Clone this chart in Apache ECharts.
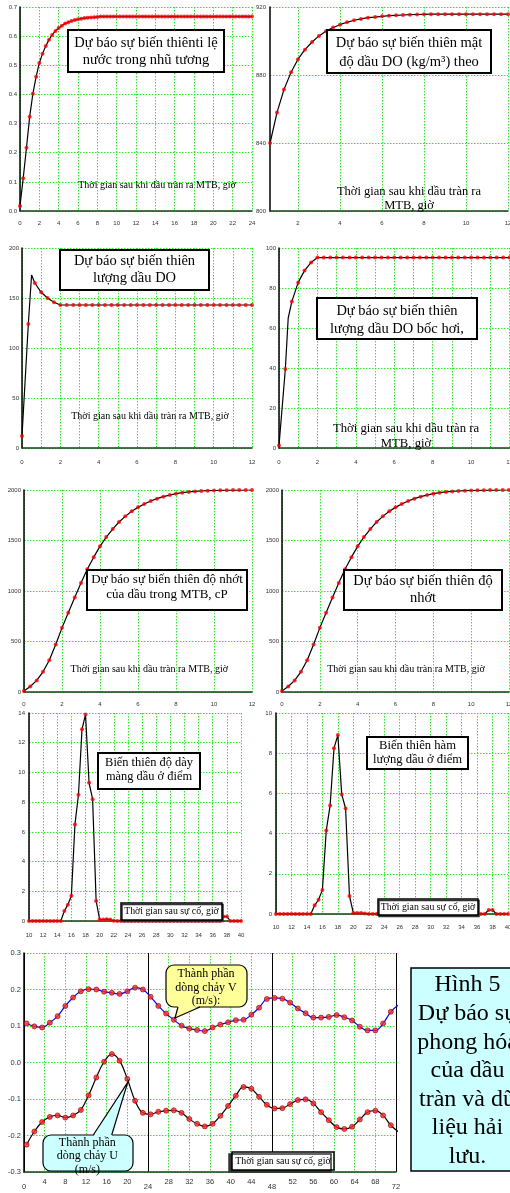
<!DOCTYPE html>
<html><head><meta charset="utf-8">
<script src="https://cdn.jsdelivr.net/npm/echarts@6/dist/echarts.min.js"></script>
<style>html,body{margin:0;padding:0;background:#fff}#c{width:510px;height:1193px}</style>
</head><body><div id="c"></div>
<script>
// ---------- DATA ----------
// sample times (hours)
const t24 = [0,0.33,0.67,1,1.33,1.67,2,2.33,2.67,3,3.33,3.67,4,4.33,4.67,5,5.33,5.67,6,6.33,6.67,7,7.33,7.67,8,8.33,8.67,9,9.33,9.67,10,10.33,10.67,11,11.33,11.67,12,12.33,12.67,13,13.33,13.67,14,14.33,14.67,15,15.33,15.67,16,16.33,16.67,17,17.33,17.67,18,18.33,18.67,19,19.33,19.67,20,20.33,20.67,21,21.33,21.67,22,22.33,22.67,23,23.33,23.67,24];
const t12 = [0,0.33,0.67,1,1.33,1.67,2,2.33,2.67,3,3.33,3.67,4,4.33,4.67,5,5.33,5.67,6,6.33,6.67,7,7.33,7.67,8,8.33,8.67,9,9.33,9.67,10,10.33,10.67,11,11.33,11.67,12];
const t12b = [0.67,1,1.33,1.67,2,2.33,2.67,3,3.33,3.67,4,4.33,4.67,5,5.33,5.67,6,6.33,6.67,7,7.33,7.67,8,8.33,8.67,9,9.33,9.67,10,10.33,10.67,11,11.33,11.67,12];
const tSpill = [10,10.5,11,11.5,12,12.5,13,13.5,14,14.5,15,15.5,16,16.5,17,17.5,18,18.5,19,19.5,20,20.5,21,21.5,22,22.5,23,23.5,24,24.5,25,25.5,26,26.5,27,27.5,28,28.5,29,29.5,30,30.5,31,31.5,32,32.5,33,33.5,34,34.5,35,35.5,36,36.5,37,37.5,38,38.5,39,39.5,40];
const tCurrent = [0.5,2,3.5,5,6.5,8,9.5,11,12.5,14,15.5,17,18.5,20,21.5,23,24.5,26,27.5,29,30.5,32,33.5,35,36.5,38,39.5,41,42.5,44,45.5,47,48.5,50,51.5,53,54.5,56,57.5,59,60.5,62,63.5,65,66.5,68,69.5,71,72.5];

// panel 1: water fraction in emulsion
const waterFraction = [0.017,0.112,0.217,0.323,0.402,0.461,0.508,0.540,0.566,0.588,0.604,0.618,0.628,0.636,0.643,0.648,0.652,0.655,0.658,0.660,0.662,0.663,0.664,0.665,0.666,
 0.667,0.667,0.667,0.667,0.667,0.667,0.667,0.667,0.667,0.667,0.667,0.667,
 0.667,0.667,0.667,0.667,0.667,0.667,0.667,0.667,0.667,0.667,0.667,0.667,
 0.667,0.667,0.667,0.667,0.667,0.667,0.667,0.667,0.667,0.667,0.667,0.667,
 0.667,0.667,0.667,0.667,0.667,0.667,0.667,0.667,0.667,0.667,0.667,0.667];
// panel 2: DO density kg/m3
const densityDO = [840,857.9,871.4,881.6,889.3,894.9,899.4,903.0,905.7,907.9,909.6,911.0,912.2,913.0,913.7,914.1,914.5,914.9,915.1,915.3,915.5,915.6,915.7,915.8,
 915.8,915.8,915.8,915.8,915.8,915.8,915.8,915.8,915.8,915.8,915.8];
// panel 3: DO amount
const amountDO = [12,124,165,155.7,150,145.7,143,143,143,143,143,143,143,143,143,143,143,143,143,143,143,143,143,143,143,143,143,143,143,143,143,143,143,143,143,143,143];
const amountPeakT = [0.5];
const amountPeakV = [173];
// panel 4: evaporated DO
const evaporatedDO = [1.2,39.5,73.3,82.8,88.7,92.8,95.2,95.2,95.2,95.2,95.2,95.2,95.2,95.2,95.2,95.2,95.2,95.2,95.2,95.2,95.2,95.2,95.2,95.2,95.2,95.2,95.2,95.2,95.2,95.2,95.2,95.2,95.2,95.2,95.2,95.2,95.2];
const evapBendT = [0.48];
const evapBendV = [65];
// panels 5,6: viscosity cP
const viscosity = [10,55,115,200,315,470,635,785,935,1080,1215,1335,1442,1534,1613,1683,1739,1789,1828,1861,1891,1914,1934,1950,1964,1974,1981,1986,1990,1993,1995,1997,1998,1999,1999,2000,2000];
// panel 7: oil film thickness at a point
const filmThickness = [0,0,0,0,0,0,0,0,0,0,0.67,1.1,1.7,6.5,8.5,12.9,13.9,9.3,8.2,1.35,0.1,0.1,0.12,0.1,0.02,
 0,0,0,0,0,0,0,0,0,0,0,0,0,0,0,0,0,0,0,0,0,0,0,0,0,0,0,0,0,0,0.3,0.3,0,0,0,0];
// panel 8: oil content at a point
const oilContent = [0,0,0,0,0,0,0,0,0,0,0.43,0.71,1.2,4.15,5.4,8.25,8.9,5.95,5.25,0.9,0.05,0.05,0.05,0.03,0,
 0,0,0,0,0,0,0,0,0,0,0,0,0,0,0,0,0,0,0,0,0,0,0,0,0,0,0,0,0,0,0.2,0.2,0,0,0,0];
// panel 9: current components (m/s)
const currentV = [0.107,0.099,0.096,0.109,0.127,0.155,0.178,0.195,0.201,0.200,0.194,0.191,0.188,0.195,0.205,0.200,0.180,0.155,0.134,0.117,0.101,0.093,0.089,0.086,0.096,0.104,0.110,0.116,0.117,0.131,0.150,0.174,0.177,0.175,0.164,0.148,0.135,0.123,0.123,0.125,0.130,0.124,0.115,0.098,0.088,0.088,0.107,0.139,0.158];
const currentU = [-0.225,-0.189,-0.163,-0.149,-0.145,-0.151,-0.145,-0.130,-0.090,-0.041,0.002,0.023,0.005,-0.045,-0.105,-0.138,-0.142,-0.135,-0.132,-0.131,-0.138,-0.155,-0.168,-0.175,-0.168,-0.146,-0.119,-0.091,-0.067,-0.072,-0.094,-0.116,-0.126,-0.125,-0.114,-0.103,-0.101,-0.112,-0.136,-0.158,-0.177,-0.182,-0.176,-0.156,-0.136,-0.132,-0.145,-0.172,-0.19];
const densityTicks = [2,4,6,8,10,12];

// ---------- HELPERS ----------
const pairs = (xs, ys) => xs.map((x, i) => [x, ys[i]]);
const withExtra = (xs, ys, ex, ey) => pairs(xs, ys).concat(pairs(ex, ey)).sort((a, b) => a[0] - b[0]);
const GREEN = {color:'#2ee82e', width:1, type:[1.5,1.5]};
const plain = v => String(v);
function axis(dim, gi, min, max, interval, o) {
  o = o || {};
  return {
    type:'value', gridIndex:gi, min:min, max:max, interval:interval,
    position: dim === 'x' ? 'bottom' : 'left',
    axisLine:{show:o.line !== false, onZero:false, lineStyle:{color: dim === 'x' ? '#174017' : '#000', width:1.5}},
    axisTick:{show:false, customValues:o.custom},
    axisLabel:{show:o.label !== false, margin:o.margin, fontSize:o.fs || 6, color:'#333', fontFamily:'Liberation Sans', formatter:o.fmt || plain, customValues:o.custom},
    splitLine:{show:true, lineStyle:o.split || GREEN}
  };
}
const f1 = v => v.toFixed(1);
const even = v => (Math.round(v) % 2 === 0 ? String(Math.round(v)) : '');
function line(i, data, color, smooth) {
  return {type:'line', xAxisIndex:i, yAxisIndex:i, data:data, symbol:'none', smooth:smooth || false,
    lineStyle:{color:color || '#000', width:1.2}, z:3, animation:false, silent:true};
}
function dots(xi, yi, data, big) {
  return {type:'scatter', xAxisIndex:xi, yAxisIndex:yi, data:data, symbol:'circle', symbolSize: big ? 5 : 4,
    itemStyle: big ? {color:'#ff2a2a', borderColor:'#900000', borderWidth:0.8} : {color:'#ff0000'},
    z:4, animation:false, silent:true};
}
const SERIF = '"Liberation Serif", "Times New Roman", serif';
function txt(x, y, text, size, lh, extra) {
  return Object.assign({type:'text', x:x, y:y, z:21, silent:true,
    style:{text:text, font:size + 'px ' + SERIF, fill:'#000', align:'center', verticalAlign:'middle',
      textAlign:'center', textVerticalAlign:'middle', lineHeight:lh || size * 1.2}}, extra || {});
}
function rect(x, y, w, h, fill, lw, r, shadow) {
  const st = {fill:fill, stroke:'#000', lineWidth:lw};
  if (shadow) { st.shadowColor = '#333'; st.shadowOffsetX = shadow[0]; st.shadowOffsetY = shadow[1]; st.shadowBlur = 0.01; }
  return {type:'rect', shape:{x:x, y:y, width:w, height:h, r:r || 0}, style:st, z:20, silent:true};
}

const grids = [
  {left:20, top:7, width:232, height:204},
  {left:270, top:7, width:238, height:204},
  {left:22, top:248, width:230, height:200},
  {left:279, top:248, width:230.5, height:200},
  {left:24, top:490, width:228, height:202},
  {left:282, top:490, width:227, height:202},
  {left:29, top:713, width:212, height:208},
  {left:276, top:713, width:232, height:201},
  {left:24, top:953, width:372, height:219}
].map(g => Object.assign({containLabel:false, outerBoundsMode:'none', show:false}, g));

const xAxes = [
  axis('x', 0, 0, 24, 2, {margin:9}),
  axis('x', 1, 0.6667, 12, null, {margin:9, custom:densityTicks}),
  axis('x', 2, 0, 12, 1, {margin:11, fmt:even}),
  axis('x', 3, 0, 12, 1, {margin:11, fmt:even}),
  axis('x', 4, 0, 12, 2, {margin:9}),
  axis('x', 5, 0, 12, 2, {margin:9}),
  axis('x', 6, 10, 40, 2, {margin:11}),
  axis('x', 7, 10, 40, 2, {margin:10}),
  axis('x', 8, 0, 72, 4, {margin:5.5, fs:7.5, fmt: v => (v % 24 === 0 ? '' : String(v))}),
  axis('x', 8, 0, 72, 24, {margin:10.5, fs:7.5, line:false, split:{color:'#000', width:1, type:'solid'}})
];
const yAxes = [
  axis('y', 0, 0, 0.7, 0.1, {margin:3, fmt:f1}),
  axis('y', 1, 800, 920, 40, {margin:4}),
  axis('y', 2, 0, 200, 50, {margin:3}),
  axis('y', 3, 0, 100, 20, {margin:3}),
  axis('y', 4, 0, 2000, 500, {margin:3}),
  axis('y', 5, 0, 2000, 500, {margin:3}),
  axis('y', 6, 0, 14, 2, {margin:4}),
  axis('y', 7, 0, 10, 2, {margin:4}),
  axis('y', 8, -0.3, 0.3, 0.1, {margin:3, fs:7.5, fmt:f1})
];

const series = [
  line(0, pairs(t24, waterFraction)), dots(0, 0, pairs(t24, waterFraction)),
  line(1, pairs(t12b, densityDO)), dots(1, 1, pairs(t12b, densityDO)),
  line(2, withExtra(t12, amountDO, amountPeakT, amountPeakV)), dots(2, 2, pairs(t12, amountDO)),
  line(3, withExtra(t12, evaporatedDO, evapBendT, evapBendV)), dots(3, 3, pairs(t12, evaporatedDO)),
  line(4, pairs(t12, viscosity)), dots(4, 4, pairs(t12, viscosity)),
  line(5, pairs(t12, viscosity)), dots(5, 5, pairs(t12, viscosity)),
  line(6, pairs(tSpill, filmThickness)), dots(6, 6, pairs(tSpill, filmThickness)),
  line(7, pairs(tSpill, oilContent)), dots(7, 7, pairs(tSpill, oilContent)),
  line(8, pairs(tCurrent, currentV), '#0000ff', 0.4), dots(8, 8, pairs(tCurrent, currentV), true),
  line(8, pairs(tCurrent, currentU), '#000', 0.4), dots(8, 8, pairs(tCurrent, currentU), true)
];

const g = [];
// panel title boxes
g.push(rect(68, 30, 156, 42, '#fff', 2), txt(146, 51.7, 'Dự báo sự biến thiênti lệ\nnước trong nhũ tương', 14.5, 16.7));
g.push(rect(327, 30, 164, 43, '#fff', 2), txt(409, 52.5, 'Dự báo sự biến thiên mật\nđộ dầu DO (kg/m³) theo', 14.5, 18.4));
g.push(rect(60, 250, 149, 40, '#fff', 2), txt(134.5, 270, 'Dự báo sự biến thiên\nlượng dầu DO', 14.5, 16.7));
g.push(rect(317, 298, 160, 41, '#fff', 2), txt(397, 320.2, 'Dự báo sự biến thiên\nlượng dầu DO bốc hơi,', 14.5, 18.3));
g.push(rect(87, 570, 160, 40, '#fff', 2), txt(167, 587.2, 'Dự báo sự biến thiên độ nhớt\ncủa dầu trong MTB, cP', 13, 15.7));
g.push(rect(344, 570, 158, 40, '#fff', 2), txt(423, 590, 'Dự báo sự biến thiên độ\nnhớt', 14.5, 16.7));
g.push(rect(98, 753, 102, 36, '#fff', 2), txt(149, 769.5, 'Biến thiên độ dày\nmàng dầu ở điểm', 12.4, 14.4));
g.push(rect(367, 737, 101, 32, '#fff', 2), txt(417.5, 752.9, 'Biến thiên hàm\nlượng dầu ở điểm', 12.6, 14.3));
// axis name texts
g.push(txt(157, 185, 'Thời gian sau khi dầu tràn ra MTB, giờ', 10));
g.push(txt(409, 198.7, 'Thời gian sau khi dầu tràn ra\nMTB, giờ', 12.5, 14));
g.push(txt(150, 416.7, 'Thời gian sau khi dầu tràn ra MTB, giờ', 10));
g.push(txt(406, 435.8, 'Thời gian sau khi dầu tràn ra\nMTB, giờ', 12.7, 15));
g.push(txt(149.3, 669, 'Thời gian sau khi dầu tràn ra MTB, giờ', 10));
g.push(txt(406, 669, 'Thời gian sau khi dầu tràn ra MTB, giờ', 10));
g.push(rect(121, 903, 101, 17, '#fff', 1.5, 0, [1, 1.5]), txt(171.5, 911.5, 'Thời gian sau sự cố, giờ', 9.8));
g.push(rect(378, 899, 100, 16, '#fff', 1.5, 0, [1, 1.5]), txt(428, 907, 'Thời gian sau sự cố, giờ', 9.8));
g.push(rect(232, 1152, 102, 18, '#fff', 1.5, 0, [-3, 2]), txt(283, 1161, 'Thời gian sau sự cố, giờ', 9.9));
// callout V
g.push(rect(166, 965, 81, 42, '#ffff99', 1.2, 8));
g.push({type:'polygon', shape:{points:[[178, 1005.5], [175, 1018], [200, 1005.5]]}, style:{fill:'#ffff99'}, z:20, silent:true});
g.push({type:'polyline', shape:{points:[[178, 1007], [175, 1018], [200, 1007]]}, style:{stroke:'#000', lineWidth:1.2, fill:null}, z:20, silent:true});
g.push(txt(206, 987.5, 'Thành phần\ndòng chảy V\n(m/s):', 12, 13.7));
// callout U
g.push(rect(43, 1135, 90, 36, '#ccffff', 1.2, 8));
g.push({type:'polygon', shape:{points:[[93.3, 1136.5], [127.7, 1082.3], [111.7, 1136.5]]}, style:{fill:'#ccffff'}, z:20, silent:true});
g.push({type:'polyline', shape:{points:[[93.3, 1135], [127.7, 1082.3], [111.7, 1135]]}, style:{stroke:'#000', lineWidth:1.2, fill:null}, z:20, silent:true});
g.push(txt(87.3, 1156, 'Thành phần\ndòng chảy U\n(m/s)', 12, 13.5));
// figure caption box
g.push(rect(411, 968, 130, 203, '#ccffff', 1.5));
g.push(txt(467.5, 1071, 'Hình 5\nDự báo sự\nphong hóa\ncủa dầu\ntràn và dữ\nliệu hải\nlưu.', 24, 28.6));

const chart = echarts.init(document.getElementById('c'), null, {renderer:'canvas'});
chart.setOption({
  backgroundColor:'#fff', animation:false,
  grid:grids, xAxis:xAxes, yAxis:yAxes, series:series,
  graphic:{elements:g}
});
</script></body></html>
